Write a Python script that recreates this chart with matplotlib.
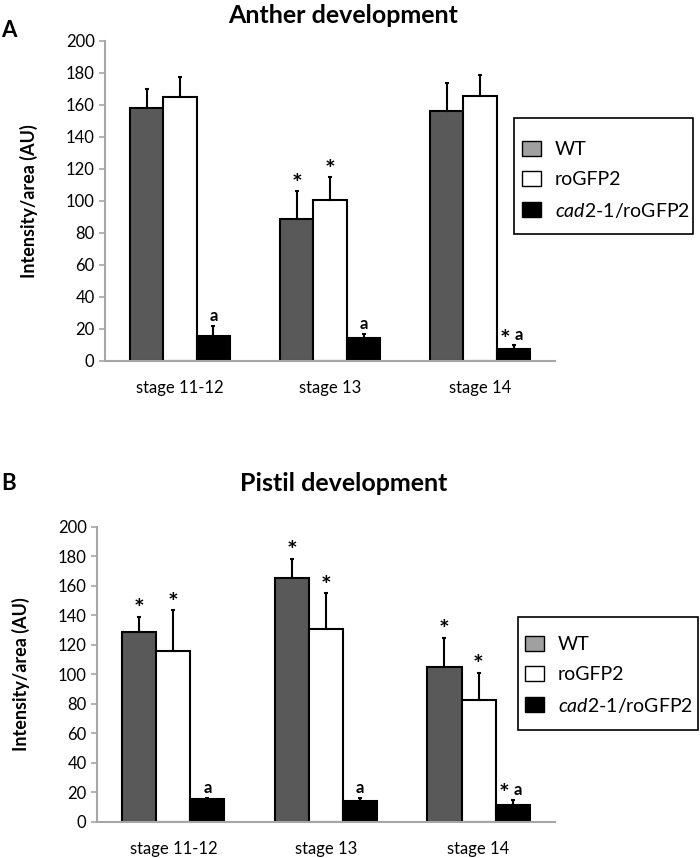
import numpy as np
import matplotlib
matplotlib.use("Agg")
from matplotlib import pyplot as plt
from matplotlib.patches import Patch, Rectangle

plt.rcParams['font.family'] = ['Lato', 'DejaVu Sans']
plt.rcParams['mathtext.fontset'] = 'custom'
plt.rcParams['mathtext.it'] = 'Lato:italic'
plt.rcParams['mathtext.rm'] = 'Lato'

stages = ['stage 11-12', 'stage 13', 'stage 14']
series = ['WT', 'roGFP2', '$\\mathit{cad2}$-$\\mathit{1}$/roGFP2']

# panel A - anther
anther_vals = [[158, 89, 156], [165, 100.5, 165.5], [15.5, 14.5, 7.5]]
anther_err = [[12, 17, 18], [12.5, 14.5, 13.5], [6.5, 2.5, 2.5]]
anther_marks = [['', '*', ''], ['', '*', ''], ['a', 'a', '*a']]

# panel B - pistil
pistil_vals = [[129, 165.5, 105], [116, 131, 83], [15.5, 14.5, 11.5]]
pistil_err = [[10, 13, 20], [27.5, 24, 18], [1, 2, 3.5]]
pistil_marks = [['*', '*', '*'], ['*', '*', '*'], ['a', 'a', '*a']]

bar_colors = ['#595959', 'white', 'black']
legend_colors = ['#a0a0a0', 'white', 'black']

fig = plt.figure(figsize=(7, 8.58), dpi=100)
ax1 = fig.add_axes([0.15, 0.5793, 0.643, 0.373])
ax2 = fig.add_axes([0.1386, 0.042, 0.654, 0.3438])


def draw(ax, vals, errs, marks):
    x = np.arange(len(stages))
    w = 0.223
    for i in range(3):
        xs = x + (i - 1) * w
        ax.bar(xs, vals[i], w, color=bar_colors[i], edgecolor='black', linewidth=1.5, zorder=2)
        lower = np.zeros(len(errs[i]))
        ax.errorbar(xs, vals[i], yerr=[lower, errs[i]], fmt='none', ecolor='black',
                    elinewidth=1.5, capsize=1.5, capthick=1.5, zorder=3)
        for xx, v, e, m in zip(xs, vals[i], errs[i], marks[i]):
            top = v + e
            if m == '*':
                ax.text(xx, top - 3, '*', ha='center', va='bottom', fontsize=18, fontweight='bold')
            elif m == 'a':
                ax.text(xx, top + 1, 'a', ha='center', va='bottom', fontsize=12, fontweight='bold')
            elif m == '*a':
                ax.text(xx - 0.02, top - 4.5, '*', ha='right', va='bottom', fontsize=18, fontweight='bold')
                ax.text(xx + 0.01, top + 1, 'a', ha='left', va='bottom', fontsize=12, fontweight='bold')
    ax.set_xlim(-0.5, 2.5)
    ax.set_ylim(0, 200)
    ax.set_yticks(np.arange(0, 201, 20))
    ax.set_xticks(x)
    ax.set_xticklabels(stages)
    for s in ['top', 'right']:
        ax.spines[s].set_visible(False)
    for s in ['left', 'bottom']:
        ax.spines[s].set_color('#a6a6a6')
        ax.spines[s].set_linewidth(1.5)
    ax.tick_params(axis='y', colors='#a6a6a6', labelcolor='black', labelsize=12, length=4, width=1.2)
    ax.tick_params(axis='x', length=0, labelsize=12, pad=14)
    ax.set_ylabel('Intensity/area (AU)', fontsize=13, fontweight='bold', labelpad=20)


draw(ax1, anther_vals, anther_err, anther_marks)
draw(ax2, pistil_vals, pistil_err, pistil_marks)

fig.text(0.49, 0.982, 'Anther development', ha='center', va='center', fontsize=18, fontweight='bold')
fig.text(0.491, 0.437, 'Pistil development', ha='center', va='center', fontsize=18, fontweight='bold')
fig.text(0.002, 0.965, 'A', ha='left', va='center', fontsize=16, fontweight='bold')
fig.text(0.002, 0.437, 'B', ha='left', va='center', fontsize=16, fontweight='bold')

handles = [Patch(facecolor=c, edgecolor='black', linewidth=1) for c in legend_colors]
# (legend left x, first row top y, box x0, y0, x1, y1) in pixels
leg_boxes = [(522, 141, 514, 118, 693, 234), (525, 636, 518, 617, 698, 730)]
W, H = 700, 858
for lx, ly, x0, y0, x1, y1 in leg_boxes:
    box = Rectangle((x0 / W, 1 - y1 / H), (x1 - x0) / W, (y1 - y0) / H,
                    transform=fig.transFigure, facecolor='white',
                    edgecolor='black', linewidth=1.2, zorder=4)
    fig.add_artist(box)
    leg = fig.legend(handles, series, loc='upper left',
                     bbox_to_anchor=(lx / W, 1 - ly / H), fontsize=14, frameon=False,
                     handlelength=1.0, handleheight=0.8, handletextpad=0.7,
                     borderpad=0, borderaxespad=0, labelspacing=0.65)
    leg.set_zorder(5)

fig.savefig('out.png', dpi=100)
